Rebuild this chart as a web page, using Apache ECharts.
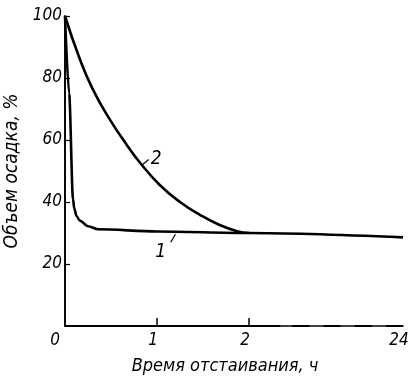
<!DOCTYPE html>
<html>
<head>
<meta charset="utf-8">
<script src="https://cdn.jsdelivr.net/npm/echarts@6/dist/echarts.min.js"></script>
<style>
  html, body { margin: 0; padding: 0; background: #fff; }
  #chart { width: 411px; height: 380px; }
</style>
</head>
<body>
<div id="chart"></div>
<script>
// время, ч  /  объем осадка, %
const curve1Time = [0, 0.045, 0.087, 0.1, 0.125, 0.16, 0.25, 0.36, 1, 2, 24];
const curve1Vol = [100, 75, 41, 38, 35.5, 34, 32.2, 31.2, 30.5, 30, 28.6];
const curve2Time = [0, 0.15, 0.3, 0.49, 0.67, 0.82, 1.03, 1.25, 1.47, 1.68, 1.87, 2];
const curve2Vol = [100, 87, 76.5, 66.5, 58.5, 52.5, 45.5, 40, 35.8, 32.6, 30.6, 30];
const xTickHours = [0, 1, 2, 24];
const yTicks = [20, 40, 60, 80, 100];

// шкала до 2 ч линейная, дальше до 24 ч сжата
const BREAK_H = 2;
const LAST_H = 24;
const LAST_POS = 3.674;
function pos(t) {
    if (t <= BREAK_H) return t;
    return BREAK_H + (t - BREAK_H) / (LAST_H - BREAK_H) * (LAST_POS - BREAK_H);
}

// нижняя ось: сплошная до 2.34, потом штрихи
const SOLID_END = 2.34;
const DASH_START = 2.47;
const DASH_LEN = 0.185;
const DASH_STEP = 0.34;
const axisSegments = [{ coords: [[0, 0], [SOLID_END, 0]] }];
for (let a = DASH_START; a < LAST_POS; a += DASH_STEP) {
    axisSegments.push({ coords: [[a, 0], [Math.min(a + DASH_LEN, LAST_POS), 0]] });
}

const FONT = "'Liberation Sans Narrow', 'DejaVu Sans Condensed', 'Liberation Sans', sans-serif";
const INK = '#000';

const pairs = (ts, vs) => ts.map((t, i) => [pos(t), vs[i]]);

const chart = echarts.init(document.getElementById('chart'));

const labelText = {
    fontFamily: FONT,
    fontStyle: 'italic',
    fontSize: 17,
    color: INK
};

chart.setOption({
    animation: false,
    grid: { left: 65, right: 8, top: 16, bottom: 54, outerBoundsMode: 'none', containLabel: false },
    xAxis: [
        {
            type: 'value',
            min: 0,
            max: LAST_POS,
            name: 'Время отстаивания, ч',
            nameLocation: 'middle',
            nameGap: 31,
            nameTextStyle: { fontFamily: FONT, fontStyle: 'italic', fontSize: 18, color: INK, padding: [0, 18, 0, 0] },
            axisLine: { show: false },
            axisTick: { show: true, inside: true, length: 8, customValues: [pos(1), pos(2)], lineStyle: { color: INK, width: 1.5 } },
            axisLabel: {
                customValues: xTickHours.map(pos),
                margin: 6,
                formatter: (v) => {
                    const h = xTickHours.find((t) => Math.abs(pos(t) - v) < 1e-6);
                    if (h === 0) return '{z|0}';
                    if (h === LAST_H) return '{e|24}';
                    return '{n|' + h + '}';
                },
                rich: {
                    z: { ...labelText, padding: [0, 20, 0, 0] },
                    n: { ...labelText, padding: [0, 8, 0, 0] },
                    e: { ...labelText, padding: [0, 8, 0, 0] }
                }
            },
            splitLine: { show: false }
        },
        {
            type: 'value',
            position: 'top',
            min: 0,
            max: LAST_POS,
            axisLine: { show: true, lineStyle: { color: INK, width: 1.6 } },
            axisTick: { show: false },
            axisLabel: { show: false },
            splitLine: { show: false }
        }
    ],
    yAxis: [
        {
            type: 'value',
            min: 0,
            max: 100,
            interval: 20,
            name: 'Объем осадка, %',
            nameLocation: 'middle',
            nameGap: 35,
            nameTextStyle: { fontFamily: FONT, fontStyle: 'italic', fontSize: 19, color: INK },
            axisLine: { show: true, lineStyle: { color: INK, width: 1.6 } },
            axisTick: { show: true, inside: true, length: 5, lineStyle: { color: INK, width: 1.2 } },
            axisLabel: {
                ...labelText,
                margin: 3,
                showMinLabel: false,
                formatter: (v) => (yTicks.includes(v) ? String(v) : '')
            },
            splitLine: { show: false }
        },
        {
            type: 'value',
            position: 'right',
            min: 0,
            max: 100,
            axisLine: { show: true, lineStyle: { color: INK, width: 1.6 } },
            axisTick: { show: false },
            axisLabel: { show: false },
            splitLine: { show: false }
        }
    ],
    series: [
        {
            type: 'lines',
            coordinateSystem: 'cartesian2d',
            silent: true,
            z: 5,
            data: axisSegments,
            lineStyle: { color: INK, width: 2, opacity: 1, curveness: 0 }
        },
        {
            name: '1',
            type: 'line',
            symbol: 'none',
            smooth: 0.3,
            smoothMonotone: 'x',
            data: pairs(curve1Time, curve1Vol),
            lineStyle: { color: INK, width: 2.6 },
            markLine: {
                silent: true,
                symbol: 'none',
                label: { show: false },
                lineStyle: { color: INK, width: 1.2, type: 'solid' },
                data: [[{ coord: [pos(1.2), 29.6] }, { coord: [pos(1.15), 27] }]]
            },
            markPoint: {
                symbolSize: 0,
                label: { show: true, formatter: '1', ...labelText, fontSize: 19 },
                data: [{ coord: [pos(1.04), 23.8] }]
            }
        },
        {
            name: '2',
            type: 'line',
            symbol: 'none',
            smooth: 0.5,
            data: pairs(curve2Time, curve2Vol),
            lineStyle: { color: INK, width: 2.6 },
            markLine: {
                silent: true,
                symbol: 'none',
                label: { show: false },
                lineStyle: { color: INK, width: 1.2, type: 'solid' },
                data: [[{ coord: [pos(0.83), 51.8] }, { coord: [pos(0.91), 53.7] }]]
            },
            markPoint: {
                symbolSize: 0,
                label: { show: true, formatter: '2', ...labelText, fontSize: 19 },
                data: [{ coord: [pos(0.99), 54] }]
            }
        }
    ]
});
</script>
</body>
</html>
